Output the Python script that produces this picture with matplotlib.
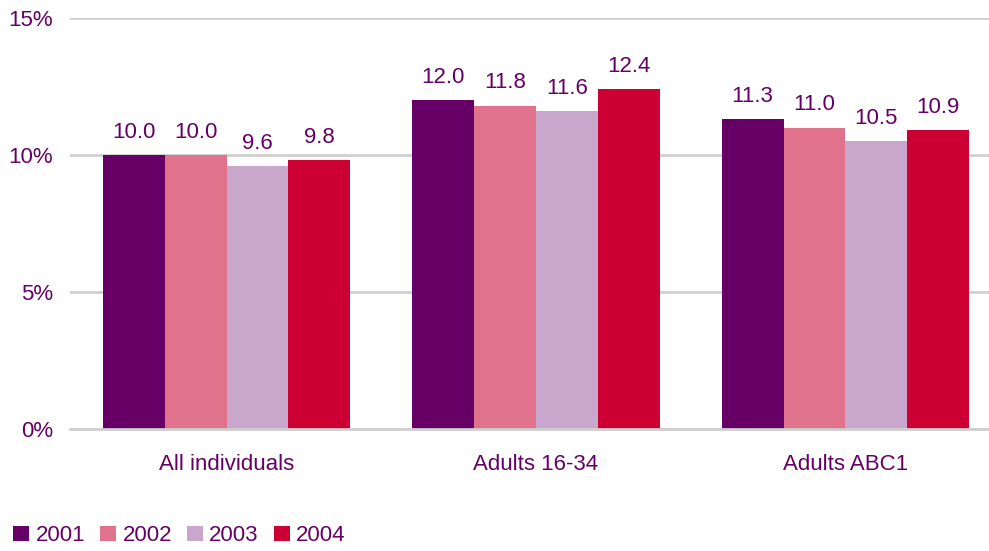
import numpy as np
import matplotlib
matplotlib.use("Agg")
import matplotlib.pyplot as plt
from matplotlib.ticker import FuncFormatter

categories = ["All individuals", "Adults 16-34", "Adults ABC1"]
years = ["2001", "2002", "2003", "2004"]
values_2001 = [10.0, 12.0, 11.3]
values_2002 = [10.0, 11.8, 11.0]
values_2003 = [9.6, 11.6, 10.5]
values_2004 = [9.8, 12.4, 10.9]
y_ticks = [0, 5, 10, 15]

series = [values_2001, values_2002, values_2003, values_2004]
colors = ["#660066", "#E0728C", "#C9A6CB", "#CC0033"]
text_color = "#660066"
grid_color = "#CFCFCF"

plt.rcParams["font.family"] = ["Liberation Sans", "DejaVu Sans"]

fig = plt.figure(figsize=(9.89, 5.51), dpi=100)
ax = fig.add_axes([70 / 989, 1 - 429 / 551, 1 - 70 / 989, (429 - 18) / 551])

x = np.arange(len(categories))
w = 0.2
for i, (vals, col, yr) in enumerate(zip(series, colors, years)):
    pos = x + (i - 1.5) * w
    ax.bar(pos, vals, width=w, color=col, label=yr, zorder=3)
    for px, v in zip(pos, vals):
        ax.text(px, v + 0.45, f"{v:.1f}", ha="center", va="bottom",
                fontsize=16, color=text_color)

ax.set_xlim(-0.506, 2.464)
ax.set_ylim(0, 15)
ax.set_yticks(y_ticks)
ax.yaxis.set_major_formatter(FuncFormatter(lambda v, _: f"{v:.0f}%"))
ax.set_xticks(x)
ax.set_xticklabels(categories)
ax.tick_params(axis="both", length=0, labelsize=16, labelcolor=text_color)
ax.tick_params(axis="y", pad=12)
ax.tick_params(axis="x", pad=18)
ax.grid(axis="y", color=grid_color, linewidth=2.0, zorder=0)
for s in ["top", "right", "left"]:
    ax.spines[s].set_visible(False)
ax.spines["bottom"].set_color(grid_color)
ax.spines["bottom"].set_linewidth(2.0)
ax.spines["bottom"].set_zorder(4)

fig.legend(loc="lower left", bbox_to_anchor=(0.0, -0.016), ncol=4, frameon=False,
           fontsize=16, labelcolor=text_color, handlelength=0.7, handleheight=0.7,
           handletextpad=0.3, columnspacing=0.68, borderaxespad=0.2)

fig.savefig("out.png", dpi=100)
